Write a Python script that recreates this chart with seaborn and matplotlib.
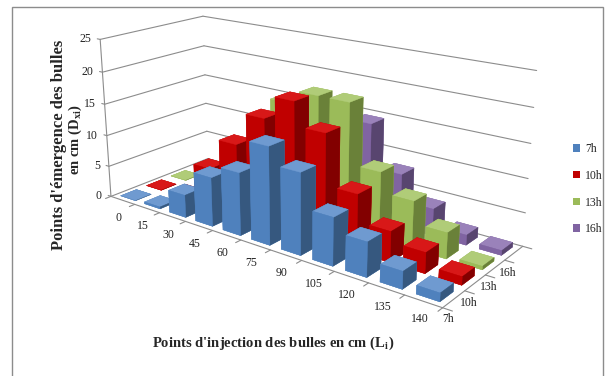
import numpy as np
import matplotlib
matplotlib.use("Agg")
import matplotlib.pyplot as plt
import seaborn as sns
from matplotlib.patches import Rectangle, Patch
from mpl_toolkits.mplot3d import proj3d

# Injection points (cm) and sampling hours
positions = ["0", "15", "30", "45", "60", "75", "90", "105", "120", "135", "140"]
hours = ["7h", "10h", "13h", "16h"]

# Emergence points (cm) per injection point, one list per hour
d_7h = [0, 0.3, 3.5, 7.5, 9.5, 14.5, 12, 7, 5, 2.5, 1.2]
d_10h = [0, 0.5, 6, 11, 16, 19.5, 16, 8.5, 4.5, 3, 1.2]
d_13h = [0, 0.3, 4, 8, 17, 19, 19, 10, 7, 3.8, 0.5]
d_16h = [0, 0, 2, 6.5, 12.5, 15, 14.5, 8, 4, 1.5, 0.7]
series = [d_7h, d_10h, d_13h, d_16h]

z_ticks = [0, 5, 10, 15, 20, 25]

# Office-style palette: front face, side face, top face
front = ["#4F81BD", "#C00000", "#9BBB59", "#8064A2"]
side = ["#36587F", "#820000", "#6A8139", "#58456F"]
top = ["#6F9AD0", "#D81818", "#B0CC78", "#9A82BA"]

sns.set_theme(style="white")
plt.rcParams["font.family"] = ["Liberation Serif", "DejaVu Serif"]
plt.rcParams["mathtext.fontset"] = "stix"

fig = plt.figure(figsize=(6.08, 3.76), dpi=100)
ax = fig.add_axes([0.075, 0.188, 0.836, 0.86], projection="3d", computed_zorder=False)
ax.set_proj_type("persp", focal_length=0.55)
ax.view_init(elev=18.5, azim=-52.5)
nx, ny = len(positions), len(hours)
ax.set_box_aspect((2.46, 0.92, 1.04), zoom=1.425)
ax.set_xlim(0, nx)
ax.set_ylim(0, ny)
ax.set_zlim(0, 25)
ax.set_axis_off()


def label_at(x, y, z, s, offset, **kw):
    """Label placed at a pixel offset from the projected position of a 3D point."""
    px, py, _ = proj3d.proj_transform(x, y, z, ax.get_proj())
    ax.annotate(s, xy=(px, py), xycoords="data", xytext=offset,
                textcoords="offset pixels", fontsize=8.5, color="#222222",
                annotation_clip=False, **kw)


grid_c = "#8C8C8C"
# wall gridlines: left wall (x = 0) and back wall (y = ny)
for z in z_ticks:
    ax.plot([0, 0], [0, ny], [z, z], color=grid_c, lw=0.8, zorder=1)
    ax.plot([0, nx], [ny, ny], [z, z], color=grid_c, lw=0.8, zorder=1)
    ax.plot([0, -0.12], [0, 0], [z, z], color=grid_c, lw=0.8, zorder=1)
ax.plot([0, 0], [0, 0], [0, 25], color=grid_c, lw=0.8, zorder=1)

# bars
w, d = 0.62, 0.6
xs, ys, hs, fcs = [], [], [], []
for j, vals in enumerate(series):
    for i, v in enumerate(vals):
        xs.append(i + 0.5 - w / 2)
        ys.append(j + 0.5 - d / 2)
        hs.append(v)
        # face order: -z, +z, -y, +y, -x, +x
        fcs += [front[j], top[j], front[j], front[j], front[j], side[j]]
ax.bar3d(xs, ys, np.zeros(len(xs)), w, d, hs, color=fcs, shade=False,
         edgecolor=fcs, linewidth=0.3, zorder=2)

# floor edges with tick marks
ax.plot([0, nx], [0, 0], [0, 0], color=grid_c, lw=0.8, zorder=3)
ax.plot([nx, nx], [0, ny], [0, 0], color=grid_c, lw=0.8, zorder=3)
for k in range(nx + 1):
    ax.plot([k, k], [0, -0.2], [0, 0], color=grid_c, lw=0.8, zorder=3)
for k in range(ny + 1):
    ax.plot([nx, nx + 0.25], [k, k], [0, 0], color=grid_c, lw=0.8, zorder=3)

# the plot box extends past the square 3D axes area
for art in ax.lines + ax.collections:
    art.set_clip_on(False)

# tick labels
for z in z_ticks:
    label_at(0, 0, z, str(z), (-9, 0), ha="right", va="center")
for i, lab in enumerate(positions):
    label_at(i + 0.5, 0, 0, lab, (-4, -18), ha="center", va="center")
for j, lab in enumerate(hours):
    label_at(nx, j + 0.5, 0, lab, (-6, -20), ha="center", va="center")

# axis titles
fig.text(0.097, 0.614, "Points d'émergence des bulles", rotation=90, ha="center",
         va="center", fontsize=12, fontweight="bold")
fig.text(0.124, 0.628, "en cm (D$_{\\mathbf{xi}}$)", rotation=90, ha="center",
         va="center", fontsize=10.5, fontweight="bold")
fig.text(0.449, 0.088, "Points d'injection des bulles en cm (L$_{\\mathbf{i}}$)",
         ha="center", va="center", fontsize=10.5, fontweight="bold")

# legend
handles = [Patch(facecolor=c, edgecolor="none") for c in front]
fig.legend(handles, hours, loc="center left", bbox_to_anchor=(0.925, 0.497),
           frameon=False, fontsize=8.5, handlelength=0.6, handleheight=0.6,
           handletextpad=0.4, labelspacing=1.25)

# chart area border
fig.patches.append(Rectangle((12 / 608, -0.05), 591 / 608, 1.05 - 7 / 376,
                             transform=fig.transFigure, fill=False,
                             edgecolor="#8C8C8C", lw=1.0))

fig.savefig("out.png", dpi=100)
